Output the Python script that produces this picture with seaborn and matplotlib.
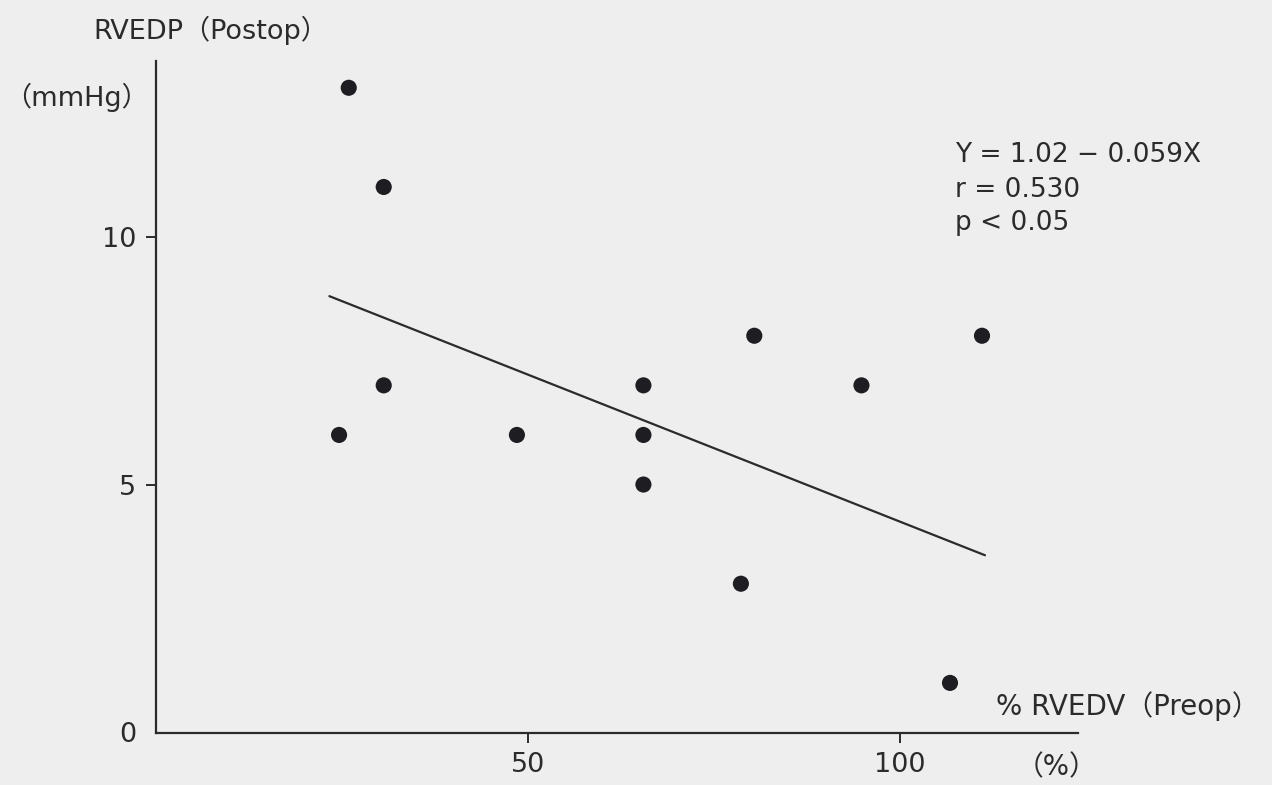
import numpy as np
import pandas as pd
import matplotlib.pyplot as plt
import seaborn as sns

# values
pct_rvedv = [24.6, 25.9, 30.6, 30.6, 48.5, 65.5, 65.5, 65.5, 78.6, 80.4, 94.8, 106.7, 111.0]
rvedp = [6, 13, 11, 7, 6, 7, 6, 5, 3, 8, 7, 1, 8]

# regression line as drawn in the figure
fit_intercept = 10.18
fit_slope = -0.0593
fit_x = np.array([23.3, 111.4])

x_ticks = [50, 100]
y_ticks = [0, 5, 10]

bg = '#eeeeee'
ink = '#2b2b2b'

sns.set_style("ticks")
plt.rcParams['font.family'] = ['DejaVu Sans', 'Noto Sans CJK JP']

df = pd.DataFrame({'x': pct_rvedv, 'y': rvedp})
fit_df = pd.DataFrame({'x': fit_x, 'y': fit_intercept + fit_slope * fit_x})

W, H = 1272, 785
fig = plt.figure(figsize=(W / 100, H / 100), dpi=100, facecolor=bg)
ax = fig.add_axes([156 / W, (H - 732.5) / H, (1078 - 156) / W, (732.5 - 61) / H])
ax.set_facecolor(bg)

sns.scatterplot(data=df, x='x', y='y', ax=ax, s=135, color='#1e1e22',
                edgecolor='none', clip_on=False)
sns.lineplot(data=fit_df, x='x', y='y', ax=ax, color=ink, linewidth=1.6)

ax.set_xlim(0, 123.9)
ax.set_ylim(0, 13.54)
ax.set_xticks(x_ticks)
ax.set_yticks(y_ticks)
ax.set_xlabel('')
ax.set_ylabel('')
sns.despine(ax=ax)
for side in ['left', 'bottom']:
    ax.spines[side].set_linewidth(1.6)
    ax.spines[side].set_color(ink)
ax.tick_params(axis='both', direction='out', length=7, width=1.4, color=ink,
               labelsize=19.5, labelcolor=ink, pad=7)
ax.yaxis.get_major_ticks()[0].tick1line.set_visible(False)

def ftext(px, py, s, size, ha='left', va='center'):
    fig.text(px / W, 1 - py / H, s, fontsize=size, color=ink, ha=ha, va=va)

ftext(93, 30, 'RVEDP（Postop）', 19.5)
ftext(4, 97, '（mmHg）', 19.5)
ftext(955, 155, 'Y = 1.02 − 0.059X', 19)
ftext(955, 190, 'r = 0.530', 19)
ftext(955, 223, 'p < 0.05', 19)
ftext(996, 706, '% RVEDV（Preop）', 20)
ftext(1016, 767, '（%）', 20)

fig.savefig('out.png', dpi=100, facecolor=bg)
